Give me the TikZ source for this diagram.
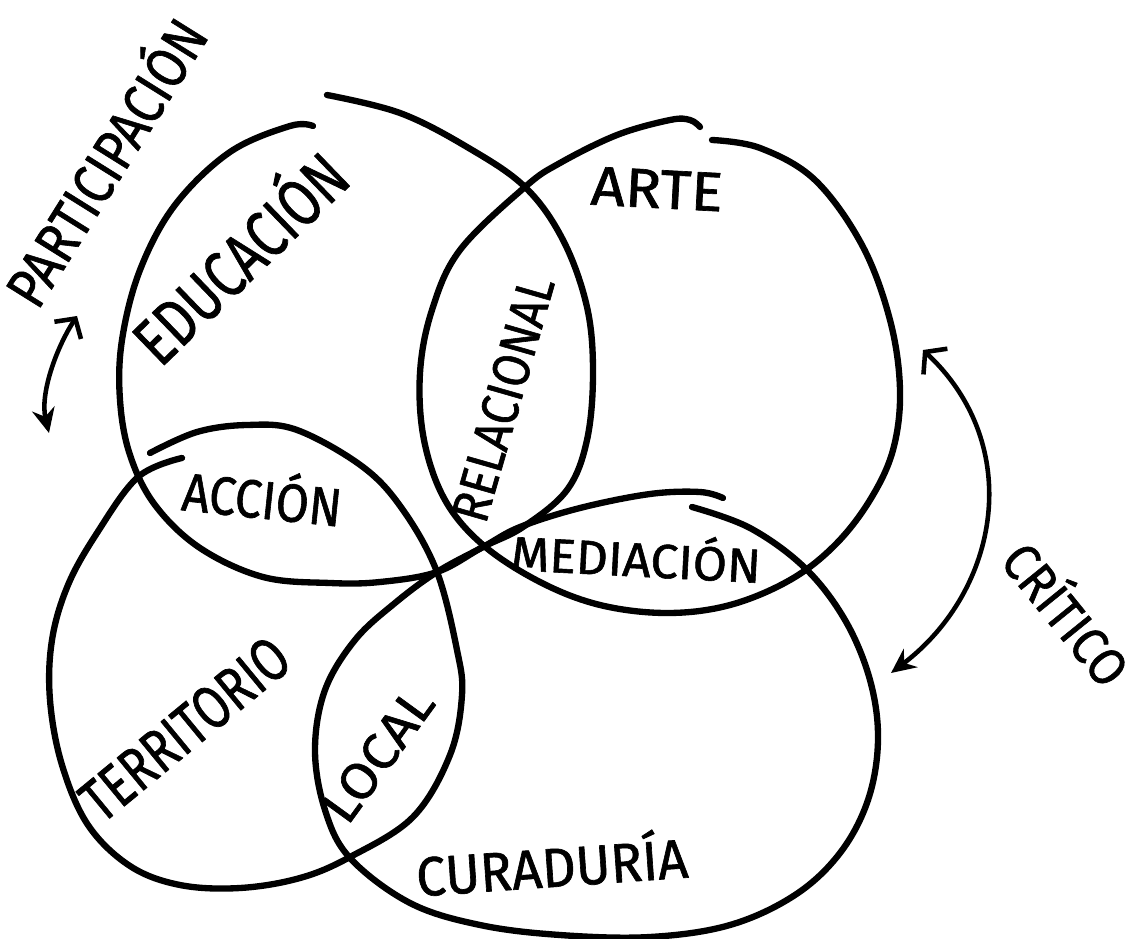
\documentclass[tikz,border=0pt]{standalone}
\usepackage{fontspec}
\setmainfont{Fira Sans}
\newfontfamily\handfont[FakeBold=1.2]{Fira Sans}
\usepackage{graphicx}
\usetikzlibrary{arrows.meta}
\newlength\pxu \setlength\pxu{0.02cm}
\newcommand\lbl[3]{\resizebox{#1\pxu}{#2\pxu}{\handfont\smash{#3}\vphantom{E}}}
\begin{document}
\begin{tikzpicture}[x=0.02cm,y=-0.02cm, line cap=round, line join=round,
  circ/.style={line width=3.6pt, smooth, tension=0.6},
  lab/.style={inner sep=0pt, outer sep=0pt},
  arr/.style={line width=2.6pt}]
\useasboundingbox (0,0) rectangle (1133,939);

% EDUCACION circle
\draw[circ] plot coordinates {(327,95) (400,113) (467,147) (525,187) (563,240) (587,307) (593,373) (587,440) (567,490) (523,527) (483,547) (437,572) (380,582) (330,583) (263,577) (200,548) (155,505) (130,455) (120,400) (122,340) (140,270) (175,205) (230,152) (290,126) (313,126)};
% ARTE circle
\draw[circ] plot coordinates {(712,140) (760,148) (815,180) (862,245) (890,320) (900,390) (893,450) (870,500) (835,545) (790,580) (730,605) (667,613) (600,605) (540,582) (483,545) (445,500) (424,440) (420,373) (432,310) (460,250) (525,187) (560,163) (617,135) (670,120) (690,120) (700,127)};
% TERRITORIO circle
\draw[circ] plot coordinates {(150,453) (197,432) (247,425) (297,430) (363,467) (403,510) (437,572) (457,650) (462,695) (450,755) (413,817) (350,857) (300,878) (240,888) (180,885) (130,866) (88,825) (62,765) (50,700) (52,640) (68,585) (97,533) (138,477) (182,458)};
% CURADURIA circle
\draw[circ] plot coordinates {(692,507) (750,528) (805,568) (845,620) (870,680) (878,740) (868,800) (840,853) (795,895) (730,925) (650,937) (560,935) (480,925) (410,903) (350,858) (325,810) (315,750) (325,690) (355,640) (395,603) (437,572) (483,547) (520,527) (580,508) (650,494) (700,492) (723,498)};

% labels
\node[lab, rotate=58] (particip) at (107,163) {\lbl{325}{40}{PARTICIPACIÓN}};
\node[lab, rotate=44] (educ) at (241,259) {\lbl{268}{46}{EDUCACIÓN}};
\node[lab, rotate=-3] (arte) at (657,189) {\lbl{132}{38}{ARTE}};
\node[lab, rotate=74] (relac) at (503,399) {\lbl{252}{36}{RELACIONAL}};
\node[lab, rotate=-6] (accion) at (262,500) {\lbl{160}{37}{ACCIÓN}};
\node[lab, rotate=-3] (mediac) at (636,560) {\lbl{250}{33}{MEDIACIÓN}};
\node[lab, rotate=39.5] (territ) at (185,729) {\lbl{250}{42}{TERRITORIO}};
\node[lab, rotate=54] (local) at (378,755) {\lbl{152}{35}{LOCAL}};
\node[lab, rotate=4] (curad) at (552,868) {\lbl{272}{38}{CURADURÍA}};
\node[lab, rotate=-51] (critico) at (1065,615) {\lbl{166}{36}{CRÍTICO}};

% arrows
\coordinate (pa1) at (77,316);
\coordinate (pa2) at (49,433);
\draw[arr, {Straight Barb[length=8pt,width=18pt]}-{Stealth[length=14pt,width=13pt]}]
  (pa1) .. controls (55,350) and (40,395) .. (pa2);
\coordinate (pc1) at (923,350);
\coordinate (pc2) at (891,673);
\draw[arr, {Straight Barb[length=8pt,width=20pt]}-{Stealth[length=14pt,width=13pt]}]
  (pc1) .. controls (1025,445) and (1000,590) .. (pc2);
\end{tikzpicture}
\end{document}
